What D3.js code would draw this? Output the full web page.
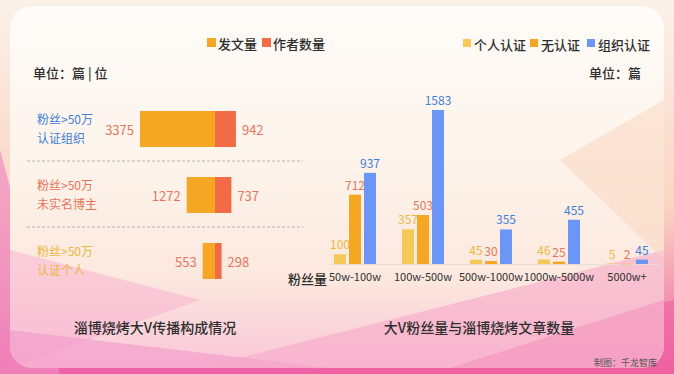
<!DOCTYPE html>
<html><head><meta charset="utf-8">
<script src="https://cdn.jsdelivr.net/npm/d3@7"></script>
<style>body{margin:0;padding:0;overflow:hidden}svg{display:block}text{font-family:"Noto Sans CJK SC","Noto Sans",sans-serif}</style>
</head><body>
<svg id="c" width="674" height="374"></svg>
<script>
// ---- data ----
const leftRows = ["认证组织", "未实名博主", "认证个人"];
const leftRowPrefix = ["粉丝>50万", "粉丝>50万", "粉丝>50万"];
const postCounts = [3375, 1272, 553];
const authorCounts = [942, 737, 298];
const leftLegend = ["发文量", "作者数量"];

const fanGroups = ["50w-100w", "100w-500w", "500w-1000w", "1000w-5000w", "5000w+"];
const personal = [100, 357, 45, 46, 5];
const noCert = [712, 503, 30, 25, 2];
const orgCert = [937, 1583, 355, 455, 45];
const rightLegend = ["个人认证", "无认证", "组织认证"];

const svg = d3.select("#c");
const W = 674, H = 374;
const defs = svg.append("defs");

// ---- background ----
const bg = defs.append("linearGradient").attr("id","bg").attr("x1",0).attr("y1",0).attr("x2",0).attr("y2",1);
bg.append("stop").attr("offset","0").attr("stop-color","#FBF1E8");
bg.append("stop").attr("offset","0.55").attr("stop-color","#FAD5C2");
bg.append("stop").attr("offset","1").attr("stop-color","#EE5FA6");
svg.append("rect").attr("width",W).attr("height",H).attr("fill","url(#bg)");
svg.append("path").attr("d","M0,150 L60,374 L0,374Z").attr("fill","#F08CC0").attr("opacity",0.7);
svg.append("path").attr("d","M674,300 L674,374 L300,374Z").attr("fill","#F0609F").attr("opacity",0.6);

const card = defs.append("linearGradient").attr("id","card").attr("x1",0).attr("y1",0).attr("x2",0).attr("y2",1);
card.append("stop").attr("offset","0").attr("stop-color","#FEFCF9");
card.append("stop").attr("offset","0.45").attr("stop-color","#FDF3EA");
card.append("stop").attr("offset","0.75").attr("stop-color","#FCE8DE");
card.append("stop").attr("offset","1").attr("stop-color","#F9C6D8");
defs.append("clipPath").attr("id","cardclip").append("rect")
  .attr("x",10).attr("y",6).attr("width",654).attr("height",362).attr("rx",22);
svg.append("rect").attr("x",10).attr("y",6).attr("width",654).attr("height",362).attr("rx",22).attr("fill","url(#card)");
const deco = svg.append("g").attr("clip-path","url(#cardclip)");
deco.append("path").attr("d","M10,250 L200,300 L10,368Z").attr("fill","#F7B3D2").attr("opacity",0.55);
deco.append("path").attr("d","M10,330 L330,368 L10,368Z").attr("fill","#F294C6").attr("opacity",0.55);
deco.append("path").attr("d","M200,368 L664,250 L664,368Z").attr("fill","#F7A9C8").attr("opacity",0.6);
deco.append("path").attr("d","M450,368 L664,300 L664,368Z").attr("fill","#F48CB8").attr("opacity",0.5);
deco.append("path").attr("d","M560,160 L664,100 L664,260Z").attr("fill","#FAD3BC").attr("opacity",0.5);

const orange = "#F5A623", red = "#F26B47", yellow = "#F5C85A", blue = "#6B96F5";
const salmon = "#E2775E", blueTxt = "#3F7FD6", yellowTxt = "#EDB83E";
const dark = "#2E2E2E";

// ---- left chart ----
const L = svg.append("g");
const legL = L.append("g");
[[orange, leftLegend[0], 207], [red, leftLegend[1], 262]].forEach(([c,t,x]) => {
  legL.append("rect").attr("x",x).attr("y",38).attr("width",9).attr("height",9).attr("fill",c);
  legL.append("text").attr("x",x+11).attr("y",43).attr("dominant-baseline","central")
    .attr("font-size",13).attr("font-weight",500).attr("fill",dark).text(t);
});
L.append("text").attr("x",33).attr("y",72).attr("dominant-baseline","central")
  .attr("font-size",13).attr("font-weight",500).attr("fill",dark).text("单位：篇 | 位");

const xL = d3.scaleLinear().domain([0, d3.max(postCounts)]).range([0, 75]);
const yL = d3.scalePoint().domain(leftRows).range([129, 261]);
const cx = 215, bh = 36;
const rowColors = [blueTxt, "#E8735A", yellowTxt];
leftRows.forEach((r,i) => {
  const cy = yL(r);
  L.append("rect").attr("x",cx - xL(postCounts[i])).attr("y",cy-bh/2).attr("width",xL(postCounts[i])).attr("height",bh).attr("fill",orange);
  L.append("rect").attr("x",cx).attr("y",cy-bh/2).attr("width",xL(authorCounts[i])).attr("height",bh).attr("fill",red);
  L.append("text").attr("x",cx - xL(postCounts[i]) - 6).attr("y",cy).attr("text-anchor","end").attr("dominant-baseline","central")
    .attr("font-size",13).attr("fill",salmon).text(postCounts[i]);
  L.append("text").attr("x",cx + xL(authorCounts[i]) + 6).attr("y",cy).attr("dominant-baseline","central")
    .attr("font-size",13).attr("fill",salmon).text(authorCounts[i]);
  L.append("text").attr("x",37).attr("y",cy-10.5).attr("dominant-baseline","central")
    .attr("font-size",12).attr("fill",rowColors[i]).text(leftRowPrefix[i]);
  L.append("text").attr("x",37).attr("y",cy+8).attr("dominant-baseline","central")
    .attr("font-size",12).attr("fill",rowColors[i]).text(r);
});
for (let i = 0; i < leftRows.length-1; i++) {
  const y = (yL(leftRows[i]) + yL(leftRows[i+1]))/2 - 1;
  L.append("line").attr("x1",27).attr("x2",303).attr("y1",y).attr("y2",y)
    .attr("stroke","#A9A3A0").attr("stroke-dasharray","3,2").attr("stroke-width",0.8);
}
L.append("text").attr("x",155).attr("y",327).attr("text-anchor","middle").attr("dominant-baseline","central")
  .attr("font-size",14).attr("font-weight",500).attr("fill",dark).text("淄博烧烤大V传播构成情况");

// ---- right chart ----
const R = svg.append("g");
const legR = R.append("g");
[[yellow, rightLegend[0], 463], [orange, rightLegend[1], 530], [blue, rightLegend[2], 587]].forEach(([c,t,x]) => {
  legR.append("rect").attr("x",x).attr("y",39).attr("width",8).attr("height",8).attr("fill",c);
  legR.append("text").attr("x",x+11).attr("y",44).attr("dominant-baseline","central")
    .attr("font-size",13).attr("font-weight",500).attr("fill",dark).text(t);
});
R.append("text").attr("x",589).attr("y",72).attr("dominant-baseline","central")
  .attr("font-size",13).attr("font-weight",500).attr("fill",dark).text("单位：篇");

const x0 = d3.scaleBand().domain(fanGroups).range([321, 661]);
const y = d3.scaleLinear().domain([0, d3.max(orgCert)]).range([264, 110]);
R.append("line").attr("x1",330).attr("x2",660).attr("y1",264.5).attr("y2",264.5).attr("stroke","#E8DCD5").attr("stroke-width",1);
const series = [
  {vals: personal, color: yellow, txt: yellowTxt, off: -15},
  {vals: noCert, color: orange, txt: salmon, off: 0},
  {vals: orgCert, color: blue, txt: blueTxt, off: 15}
];
const bw = 12;
series.forEach(s => {
  fanGroups.forEach((g,i) => {
    const c = x0(g) + x0.bandwidth()/2 + s.off;
    const v = s.vals[i];
    R.append("rect").attr("x",c-bw/2).attr("y",y(v)).attr("width",bw).attr("height",Math.max(264-y(v),0.5)).attr("fill",s.color);
    R.append("text").attr("x",c).attr("y",y(v)-5).attr("text-anchor","middle")
      .attr("font-size",12).attr("fill",s.txt).text(v);
  });
});
const xAxis = R.append("g").attr("transform","translate(0,264)")
  .call(d3.axisBottom(x0).tickSize(0).tickPadding(9));
xAxis.select(".domain").remove();
xAxis.selectAll("text").attr("font-size",11).attr("fill","#333").attr("font-family",'"Noto Sans CJK SC",sans-serif');
R.append("text").attr("x",288).attr("y",278).attr("dominant-baseline","central")
  .attr("font-size",13).attr("font-weight",500).attr("fill",dark).text("粉丝量");
R.append("text").attr("x",479).attr("y",327).attr("text-anchor","middle").attr("dominant-baseline","central")
  .attr("font-size",14).attr("font-weight",500).attr("fill",dark).text("大V粉丝量与淄博烧烤文章数量");
R.append("text").attr("x",594).attr("y",362).attr("dominant-baseline","central")
  .attr("font-size",9).attr("fill","#555").text("制图：千龙智库");
</script>
</body></html>
